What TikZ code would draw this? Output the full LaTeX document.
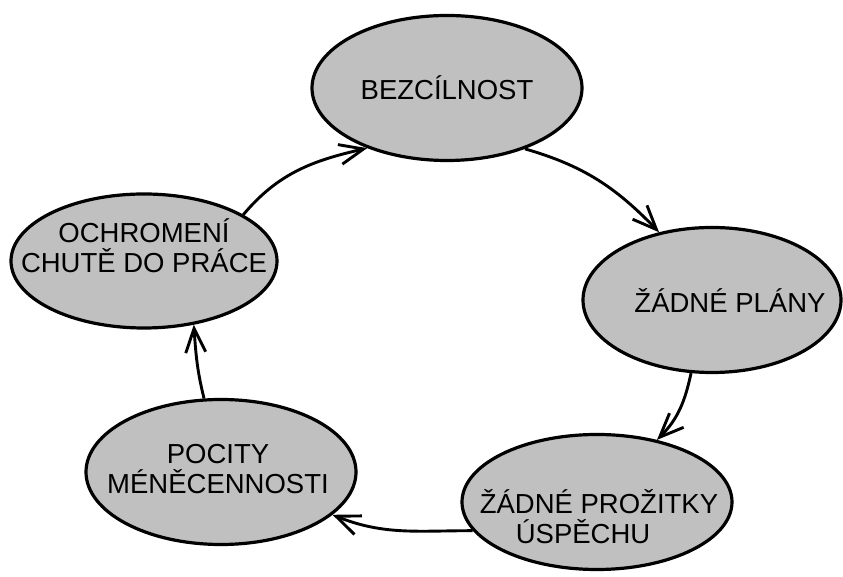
\documentclass[tikz,border=0pt]{standalone}
\usepackage{fontspec}
\setmainfont{Liberation Sans}
\usetikzlibrary{arrows.meta,shapes.geometric}
\definecolor{stavfill}{HTML}{C0C0C0}

\begin{document}
\begin{tikzpicture}[x=1pt, y=1pt,
	stav/.style={draw, ellipse, fill=stavfill, line width=3.2pt, inner sep=0pt},
	txt/.style={align=center, font=\fontsize{27.5pt}{30pt}\selectfont},
	arr/.style={-{Straight Barb[length=24pt, width=20pt]}, line width=2.9pt}
]
	\useasboundingbox (0,0) rectangle (843,577);

	% States of the cycle
	\node[stav, minimum width=270pt, minimum height=145pt,
		label={[txt]center:BEZCÍLNOST}] (bez) at (447,489) {};
	\node[stav, minimum width=258pt, minimum height=145pt,
		label={[txt, xshift=18pt]center:ŽÁDNÉ PLÁNY}] (plany) at (712,277) {};
	\node[stav, minimum width=270pt, minimum height=135pt,
		label={[txt, align=left, xshift=2pt, yshift=-15pt]center:ŽÁDNÉ PROŽITKY\\\hspace*{36pt}ÚSPĚCHU}] (prozitky) at (597,75) {};
	\node[stav, minimum width=270pt, minimum height=145pt,
		label={[txt, xshift=-3pt, yshift=3pt]center:POCITY\\MÉNĚCENNOSTI}] (pocity) at (221,105) {};
	\node[stav, minimum width=266pt, minimum height=134pt,
		label={[txt, yshift=15pt]center:OCHROMENÍ\\CHUTĚ DO PRÁCE}] (ochromeni) at (144,316) {};

	% Arrows around the circle
	\draw[arr] (bez.-38) to[out=-16, in=134] (plany.128);
	\draw[arr] (plany.-106) to[out=-102, in=45] (prozitky.46);
	\draw[arr] (prozitky.193) to[out=180, in=-22] (pocity.-21);
	\draw[arr] (pocity.103) to[out=104, in=-86] (ochromeni.-52);
	\draw[arr] (ochromeni.25) to[out=50, in=193] (bez.217);
\end{tikzpicture}
\end{document}
